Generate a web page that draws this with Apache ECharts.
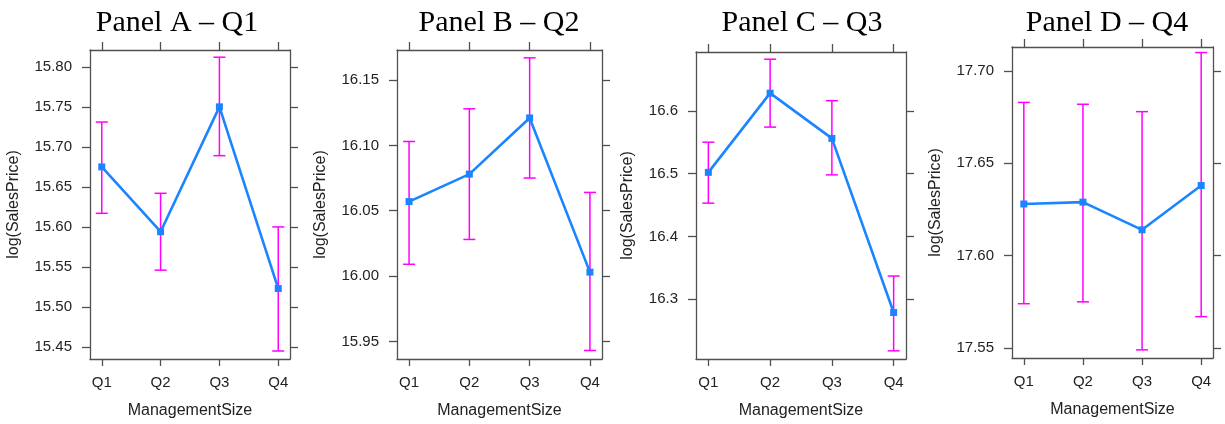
<!DOCTYPE html>
<html>
<head>
<meta charset="utf-8">
<script src="https://cdn.jsdelivr.net/npm/echarts@6/dist/echarts.min.js"></script>
<style>
  html, body { margin: 0; padding: 0; background: #fff; }
  #chart { width: 1225px; height: 424px; }
</style>
</head>
<body>
<div id="chart"></div>
<script>
// categories on the x axis
var categories = ['Q1', 'Q2', 'Q3', 'Q4'];
var panelTitles = ['Panel A \u2013 Q1', 'Panel B \u2013 Q2', 'Panel C \u2013 Q3', 'Panel D \u2013 Q4'];

// panel A
var meanA = [15.675, 15.594, 15.750, 15.523];
var lowA  = [15.617, 15.546, 15.689, 15.445];
var highA = [15.731, 15.642, 15.812, 15.600];
var ticksA = [15.45, 15.50, 15.55, 15.60, 15.65, 15.70, 15.75, 15.80];

// panel B
var meanB = [16.057, 16.078, 16.121, 16.003];
var lowB  = [16.009, 16.028, 16.075, 15.943];
var highB = [16.103, 16.128, 16.167, 16.064];
var ticksB = [15.95, 16.00, 16.05, 16.10, 16.15];

// panel C
var meanC = [16.502, 16.628, 16.556, 16.279];
var lowC  = [16.453, 16.574, 16.498, 16.218];
var highC = [16.550, 16.682, 16.616, 16.337];
var ticksC = [16.3, 16.4, 16.5, 16.6];

// panel D
var meanD = [17.628, 17.629, 17.614, 17.638];
var lowD  = [17.574, 17.575, 17.549, 17.567];
var highD = [17.683, 17.682, 17.678, 17.710];
var ticksD = [17.55, 17.60, 17.65, 17.70];

var panels = [
  {mean: meanA, low: lowA, high: highA, ticks: ticksA, dec: 2, ymin: 15.435, ymax: 15.821,
   grid: {left: 90, top: 50, width: 200, height: 310}, titleX: 177, nameGap: 68},
  {mean: meanB, low: lowB, high: highB, ticks: ticksB, dec: 2, ymin: 15.9365, ymax: 16.173,
   grid: {left: 397, top: 50, width: 205, height: 309}, titleX: 499, nameGap: 68},
  {mean: meanC, low: lowC, high: highC, ticks: ticksC, dec: 1, ymin: 16.205, ymax: 16.6935,
   grid: {left: 696, top: 52, width: 210, height: 308}, titleX: 802, nameGap: 60},
  {mean: meanD, low: lowD, high: highD, ticks: ticksD, dec: 2, ymin: 17.5446, ymax: 17.713,
   grid: {left: 1012, top: 47, width: 201, height: 311}, titleX: 1107, nameGap: 68}
];

var xPos = categories.map(function (c, i) { return i + 1; });
var boxColor = '#505050';
var textColor = '#222';
var sans = 'Liberation Sans, Arial, sans-serif';

var option = {
  backgroundColor: '#fff',
  animation: false,
  title: [], grid: [], xAxis: [], yAxis: [], series: []
};

panels.forEach(function (p, k) {
  option.title.push({
    text: panelTitles[k], left: p.titleX, top: 8, textAlign: 'center', padding: 0,
    textStyle: {fontFamily: 'Liberation Serif, Times New Roman, serif', fontSize: 30, fontWeight: 'normal', color: '#000'}
  });
  option.grid.push(Object.assign({containLabel: false}, p.grid));

  var xBase = {
    type: 'value', gridIndex: k, min: 0.8, max: 4.2,
    splitLine: {show: false},
    axisLine: {show: true, lineStyle: {color: boxColor, width: 1.3}},
    axisTick: {show: true, customValues: xPos, length: 7, lineStyle: {color: boxColor, width: 1.3}}
  };
  option.xAxis.push(Object.assign({}, xBase, {
    position: 'bottom',
    name: 'ManagementSize', nameLocation: 'middle', nameGap: 44,
    nameTextStyle: {fontFamily: sans, fontSize: 16, color: textColor},
    axisLabel: {customValues: xPos, margin: 16, fontFamily: sans, fontSize: 15, color: textColor,
      formatter: function (v) { return categories[Math.round(v) - 1]; }}
  }));
  option.xAxis.push(Object.assign({}, xBase, {
    position: 'top', axisLabel: {show: false}, axisTick: Object.assign({}, xBase.axisTick, {length: 8})
  }));

  var yBase = {
    type: 'value', gridIndex: k, min: p.ymin, max: p.ymax,
    splitLine: {show: false},
    axisLine: {show: true, lineStyle: {color: boxColor, width: 1.3}},
    axisTick: {show: true, customValues: p.ticks, length: 8, lineStyle: {color: boxColor, width: 1.3}}
  };
  option.yAxis.push(Object.assign({}, yBase, {
    position: 'left',
    name: 'log(SalesPrice)', nameLocation: 'middle', nameGap: p.nameGap,
    nameTextStyle: {fontFamily: sans, fontSize: 16, color: textColor},
    axisLabel: {customValues: p.ticks, margin: 18, fontFamily: sans, fontSize: 15, color: textColor,
      formatter: (function (d) { return function (v) { return v.toFixed(d); }; })(p.dec)}
  }));
  option.yAxis.push(Object.assign({}, yBase, {
    position: 'right', axisLabel: {show: false}
  }));

  var xi = k * 2, yi = k * 2;
  option.series.push({
    type: 'custom', xAxisIndex: xi, yAxisIndex: yi,
    data: xPos.map(function (x, i) { return [x, p.low[i], p.high[i]]; }),
    encode: {x: 0, y: [1, 2]},
    renderItem: function (params, api) {
      var a = api.coord([api.value(0), api.value(1)]);
      var b = api.coord([api.value(0), api.value(2)]);
      var hw = 6;
      var st = {stroke: '#ff00ff', lineWidth: 1.5};
      return {
        type: 'group',
        children: [
          {type: 'line', shape: {x1: a[0], y1: a[1], x2: b[0], y2: b[1]}, style: st},
          {type: 'line', shape: {x1: a[0] - hw, y1: a[1], x2: a[0] + hw, y2: a[1]}, style: st},
          {type: 'line', shape: {x1: b[0] - hw, y1: b[1], x2: b[0] + hw, y2: b[1]}, style: st}
        ]
      };
    }
  });
  option.series.push({
    type: 'line', xAxisIndex: xi, yAxisIndex: yi,
    data: xPos.map(function (x, i) { return [x, p.mean[i]]; }),
    symbol: 'rect', symbolSize: 7,
    itemStyle: {color: '#1a85ff'},
    lineStyle: {color: '#1a85ff', width: 2.6}
  });
});

var myChart = echarts.init(document.getElementById('chart'));
myChart.setOption(option);
</script>
</body>
</html>
